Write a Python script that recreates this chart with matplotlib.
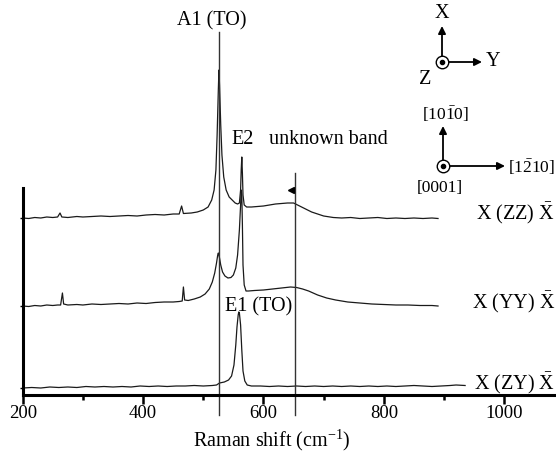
import matplotlib
matplotlib.use("Agg")
import matplotlib.pyplot as plt
import numpy as np

plt.rcParams['font.family'] = ['Liberation Serif', 'DejaVu Serif']
plt.rcParams['mathtext.fontset'] = 'custom'
plt.rcParams['mathtext.rm'] = 'Liberation Serif'
plt.rcParams['mathtext.it'] = 'Liberation Serif:italic'
plt.rcParams['mathtext.default'] = 'regular'

# Raman spectra, three scattering geometries (shift in cm-1, intensity in a.u. incl. offset)
zz_shift = [200, 210, 220, 230, 240, 250, 258, 262, 265, 275, 290, 300, 315, 330, 345, 360, 375, 390,
            405, 420, 435, 450, 460, 464, 467, 480, 490, 500, 508, 514, 518, 521, 523, 525, 526, 527,
            529, 531, 534, 538, 543, 548, 553, 557, 560, 562, 563, 564, 565, 566, 568, 572, 580, 590,
            600, 610, 620, 630, 640, 650, 660, 670, 680, 690, 700, 716, 730, 745, 760, 775, 790, 805,
            820, 835, 850, 865, 880, 890]
zz_int = [177, 176.5, 177.5, 177, 178, 177.5, 178, 182, 178, 177.5, 178.5, 178, 178.5, 179, 178.5, 179,
          179.5, 179, 180, 180.5, 180, 181, 181, 189, 181.5, 182, 183, 185, 188, 195, 205, 225, 260,
          305, 325, 310, 270, 240, 218, 205, 198, 195, 192, 191, 192, 205, 225, 238, 222, 200, 190,
          188, 188, 188.5, 189, 190, 191, 191.5, 192, 192, 189, 186, 183, 181, 179, 177.5, 177, 177.5,
          176.5, 177, 177.5, 176.5, 177, 176.5, 177, 176.5, 177, 176.5]

yy_shift = [200, 210, 220, 230, 240, 250, 258, 263, 266, 268, 275, 290, 300, 315, 330, 345, 360, 375,
            390, 405, 420, 435, 450, 460, 465, 467, 469, 475, 485, 495, 503, 510, 515, 519, 522, 524,
            525, 526, 527, 529, 532, 536, 541, 546, 550, 554, 557, 560, 562, 563, 564, 565, 566, 568,
            571, 575, 585, 600, 615, 630, 645, 655, 665, 675, 690, 705, 720, 740, 760, 780, 800, 820,
            840, 860, 880, 890]
yy_int = [89, 88.5, 89.5, 89, 90, 89.5, 90, 90, 102, 91, 90, 90.5, 90, 91, 90.5, 91, 91.5, 91, 92,
          91.5, 92.5, 93, 93, 93.5, 94, 108, 95, 94.5, 96, 98, 101, 106, 113, 122, 132, 140, 142, 140,
          137, 130, 123, 119, 117, 117.5, 120, 127, 140, 165, 190, 205, 200, 170, 130, 110, 104, 104,
          104.5, 105, 106, 107, 108, 107.5, 106, 104, 100, 97, 95, 93, 92, 91, 90.5, 90, 90, 89.5,
          89.5, 89]

zy_shift = [200, 215, 230, 245, 260, 275, 290, 305, 320, 335, 350, 365, 380, 395, 410, 425, 440, 455,
            470, 485, 500, 515, 522, 527, 535, 542, 547, 551, 554, 556, 558, 559, 560, 562, 564, 566,
            569, 573, 580, 595, 610, 625, 640, 655, 670, 685, 700, 715, 730, 745, 760, 775, 790, 805,
            820, 835, 850, 865, 880, 895, 910, 920, 935]
zy_int = [7, 7.5, 7, 8, 7.5, 8, 7.5, 8.5, 8, 8.5, 8, 8.5, 8, 9, 8.5, 9, 8.5, 9, 9, 9.5, 9, 9.5, 10,
          12, 13, 15, 19, 30, 50, 68, 80, 83, 82, 70, 45, 24, 14, 10, 9, 9, 8.5, 9, 8.5, 9, 8.5, 9,
          8.5, 9, 8.5, 9, 8.5, 9, 8.5, 9, 8.5, 9, 9.5, 9, 8.5, 9, 9.5, 10, 9.5]

baselines = [7, 89, 177]
band_pos = [526, 652]   # A1(TO) and the unknown band
geometry = [r"X (ZZ) $\bar{X}$", r"X (YY) $\bar{X}$", r"X (ZY) $\bar{X}$"]

W, H = 556, 465
FS = 14.5
FS_IDX = 12.5
fig = plt.figure(figsize=(W / 100, H / 100), dpi=100)
ax = fig.add_axes([22.7 / W, 70 / H, (W - 22.7) / W, 380 / H])
ax.set_xlim(200, 1086)
ax.set_ylim(0, 380)

def fx(px):
    return px / W

def fy(py):
    return 1 - py / H

col = '#1a1a1a'
for s, v in [(zz_shift, zz_int), (yy_shift, yy_int), (zy_shift, zy_int)]:
    ax.plot(s, v, color=col, lw=0.9, clip_on=False)

# marker lines for A1(TO) and the unknown band
ax.plot([band_pos[0]] * 2, [-20, 363], color='#333333', lw=1.0, clip_on=False)
ax.plot([band_pos[1]] * 2, [-20, 222], color='#333333', lw=1.0, clip_on=False)
ax.plot([646], [205], marker='<', ms=4, color='black', clip_on=False)

for sp in ['top', 'right']:
    ax.spines[sp].set_visible(False)
ax.spines['left'].set_bounds(0, 207)
ax.spines['left'].set_linewidth(2.2)
ax.spines['bottom'].set_linewidth(2.2)

ax.set_xticks([200, 400, 600, 800, 1000])
ax.set_xticks([300, 500, 700, 900], minor=True)
ax.tick_params(axis='x', which='major', direction='out', length=6.5, width=1.8, labelsize=13.5, pad=1)
ax.tick_params(axis='x', which='minor', direction='out', length=3.5, width=1.8)
ax.set_yticks(baselines)
ax.set_yticklabels([])
ax.tick_params(axis='y', direction='out', length=2, width=1)

fig.text(fx(272), fy(440), r"Raman shift (cm$^{-1}$)", ha='center', va='center', fontsize=FS)

# peak labels
fig.text(fx(212), fy(21), "A1 (TO)", ha='center', va='center', fontsize=FS)
fig.text(fx(243), fy(140), "E2", ha='center', va='center', fontsize=FS)
fig.text(fx(328), fy(140), "unknown band", ha='center', va='center', fontsize=FS)
fig.text(fx(259), fy(307), "E1 (TO)", ha='center', va='center', fontsize=FS)

for lab, py in zip(geometry, [213, 302, 383]):
    fig.text(fx(555), fy(py), lab, ha='right', va='center', fontsize=FS)

# crystal axes
def axes_symbol(cx, cy, up_len, right_len):
    ax.plot([fx(cx)], [fy(cy)], transform=fig.transFigure, marker='o', ms=9, mfc='white',
            mec='black', mew=1.0, clip_on=False, zorder=5)
    ax.plot([fx(cx)], [fy(cy)], transform=fig.transFigure, marker='o', ms=3, color='black',
            clip_on=False, zorder=6)
    arrow = dict(arrowstyle='-|>', lw=1.3, color='black', mutation_scale=11, shrinkA=4, shrinkB=0)
    ax.annotate('', xy=(fx(cx), fy(cy - up_len)), xytext=(fx(cx), fy(cy)),
                xycoords='figure fraction', textcoords='figure fraction', arrowprops=arrow)
    ax.annotate('', xy=(fx(cx + right_len), fy(cy)), xytext=(fx(cx), fy(cy)),
                xycoords='figure fraction', textcoords='figure fraction', arrowprops=arrow)

axes_symbol(442, 62, 36, 40)
fig.text(fx(442), fy(13), "X", ha='center', va='center', fontsize=FS)
fig.text(fx(486), fy(62), "Y", ha='left', va='center', fontsize=FS)
fig.text(fx(425), fy(79), "Z", ha='center', va='center', fontsize=FS)

axes_symbol(443, 166, 40, 62)
fig.text(fx(446), fy(114), r"[10$\bar{1}$0]", ha='center', va='center', fontsize=FS_IDX)
fig.text(fx(555), fy(167), r"[1$\bar{2}$10]", ha='right', va='center', fontsize=FS_IDX)
fig.text(fx(440), fy(188), "[0001]", ha='center', va='center', fontsize=FS_IDX)

fig.savefig("out.png", dpi=100)
